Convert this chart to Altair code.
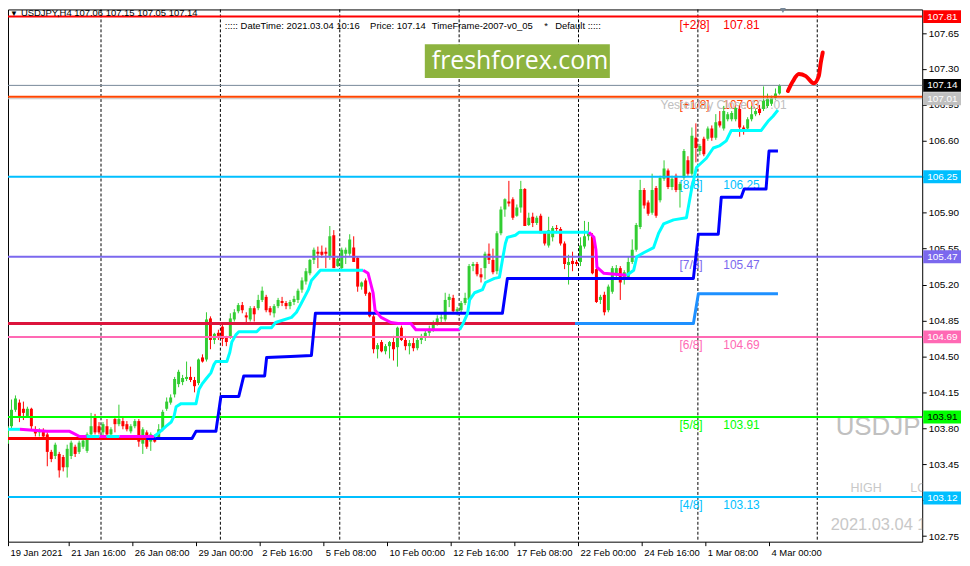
import altair as alt
import pandas as pd

# ---------------- candles: USDJPY H4, bar 0 = 19 Jan 2021 00:00 ----------------
opens = [
    103.65,103.82,103.98,104.05,103.99,103.92,103.99,103.79,103.76,103.78,
    103.74,103.57,103.53,103.55,103.52,103.42,103.53,103.62,103.57,103.62,
    103.58,103.74,103.92,103.82,103.76,103.82,103.74,103.89,103.84,103.87,
    103.84,103.77,103.82,103.87,103.65,103.76,103.67,103.72,103.71,103.79,
    103.99,104.05,104.13,104.23,104.25,104.28,104.30,104.27,104.24,104.49,
    104.47,104.87,104.66,104.73,104.79,104.68,104.69,104.86,104.94,105.00,
    104.90,104.86,104.97,104.97,105.05,105.08,104.97,104.92,104.99,105.04,
    105.02,104.99,105.03,105.05,105.15,105.23,105.31,105.44,105.52,105.52,
    105.52,105.47,105.68,105.38,105.36,105.50,105.50,105.56,105.46,105.18,
    105.24,105.12,104.89,104.57,104.64,104.55,104.60,104.64,104.59,104.78,
    104.66,104.60,104.63,104.58,104.66,104.68,104.73,104.76,104.82,104.87,
    104.86,105.05,105.07,104.94,104.95,105.02,105.05,105.38,105.40,105.30,
    105.36,105.50,105.44,105.33,105.70,105.93,106.01,106.03,105.87,105.95,
    106.13,105.78,105.86,105.80,105.87,105.71,105.58,105.66,105.74,105.74,
    105.60,105.39,105.43,105.42,105.42,105.57,105.67,105.68,105.35,105.05,
    105.10,104.95,105.13,105.31,105.36,105.27,105.27,105.42,105.54,105.76,
    106.12,106.00,105.90,106.14,106.02,106.23,106.31,106.15,106.26,106.12,
    106.24,106.41,106.28,106.63,106.50,106.62,106.62,106.72,106.63,106.79,
    106.72,106.81,106.81,106.81,106.91,106.73,106.72,106.81,106.86,106.91,
    106.91,106.94,106.96,107.02,107.06,
]
highs = [
    103.86,104.08,104.12,104.08,104.06,104.01,104.00,103.82,103.80,103.80,
    103.76,103.59,103.66,103.57,103.54,103.64,103.68,103.64,103.68,103.70,
    103.76,103.95,103.94,103.86,103.86,103.89,103.81,103.92,104.03,103.90,
    103.87,103.84,103.89,103.89,103.81,103.78,103.76,103.74,103.84,103.98,
    104.10,104.13,104.30,104.37,104.32,104.45,104.40,104.30,104.48,104.52,
    104.93,104.89,104.73,104.76,104.81,104.70,104.92,104.96,105.02,105.03,
    104.93,104.99,104.99,105.10,105.18,105.10,104.99,105.01,105.07,105.08,
    105.04,105.05,105.09,105.16,105.27,105.36,105.45,105.56,105.57,105.58,
    105.56,105.77,105.73,105.47,105.56,105.56,105.69,105.67,105.47,105.23,
    105.26,105.13,104.92,104.63,104.66,104.62,104.65,104.70,104.79,104.80,
    104.70,104.66,104.68,104.68,104.72,104.76,104.80,104.85,104.90,104.92,
    105.12,105.11,105.10,104.98,105.04,105.12,105.40,105.42,105.42,105.36,
    105.52,105.60,105.55,105.72,105.96,106.04,106.21,106.05,105.98,106.21,
    106.14,105.90,105.90,105.87,105.89,105.72,105.86,105.77,105.78,105.76,
    105.62,105.49,105.52,105.44,105.66,105.82,105.81,105.70,105.37,105.10,
    105.13,105.20,105.38,105.39,105.38,105.34,105.47,105.64,105.80,106.22,
    106.14,106.02,106.28,106.16,106.26,106.41,106.33,106.26,106.28,106.20,
    106.52,106.45,106.73,106.77,106.57,106.64,106.74,106.75,106.86,106.89,
    106.94,106.88,106.89,106.93,106.94,106.75,106.83,106.94,106.91,106.95,
    107.13,107.06,107.04,107.11,107.15,
]
lows = [
    103.63,103.80,103.96,103.86,103.88,103.90,103.79,103.72,103.72,103.69,
    103.43,103.47,103.50,103.32,103.38,103.32,103.50,103.52,103.55,103.60,
    103.56,103.72,103.74,103.74,103.72,103.72,103.72,103.76,103.82,103.79,
    103.77,103.75,103.80,103.62,103.55,103.60,103.58,103.66,103.69,103.77,
    103.97,104.03,104.10,104.20,104.22,104.26,104.25,104.15,104.22,104.44,
    104.45,104.57,104.62,104.66,104.60,104.60,104.67,104.84,104.92,104.92,
    104.83,104.84,104.84,104.95,105.03,104.93,104.90,104.88,104.97,104.99,
    104.96,104.96,105.00,105.02,105.12,105.20,105.29,105.40,105.36,105.46,
    105.36,105.44,105.36,105.37,105.34,105.40,105.48,105.42,105.13,105.15,
    105.09,104.88,104.53,104.48,104.54,104.52,104.48,104.46,104.40,104.65,
    104.56,104.52,104.55,104.56,104.62,104.65,104.70,104.74,104.80,104.83,
    104.84,104.98,104.92,104.90,104.93,105.00,105.03,105.33,105.28,105.22,
    105.25,105.40,105.30,105.30,105.68,105.86,105.96,105.83,105.86,105.90,
    105.77,105.77,105.76,105.78,105.70,105.58,105.56,105.62,105.70,105.58,
    105.35,105.20,105.33,105.38,105.38,105.55,105.63,105.30,105.02,105.01,
    104.90,104.93,105.11,105.26,105.05,105.20,105.25,105.40,105.52,105.74,
    105.94,105.87,105.88,105.85,106.00,106.21,106.13,106.12,106.10,105.95,
    106.22,106.26,106.26,106.39,106.46,106.45,106.60,106.60,106.61,106.73,
    106.70,106.79,106.79,106.79,106.64,106.66,106.70,106.79,106.84,106.85,
    106.89,106.92,106.94,107.00,107.05,
]
closes = [
    103.82,103.98,104.09,103.92,103.95,103.99,103.82,103.75,103.78,103.72,
    103.57,103.50,103.64,103.39,103.42,103.60,103.66,103.55,103.66,103.68,
    103.74,103.82,103.76,103.76,103.84,103.74,103.79,103.84,103.89,103.82,
    103.79,103.82,103.87,103.67,103.79,103.62,103.74,103.67,103.79,103.96,
    104.06,104.10,104.28,104.35,104.29,104.30,104.27,104.21,104.47,104.45,
    104.86,104.66,104.72,104.70,104.67,104.64,104.87,104.93,105.00,104.95,
    104.88,104.97,104.91,105.05,105.14,104.95,104.93,104.99,105.05,105.02,
    104.99,105.03,105.06,105.14,105.24,105.33,105.44,105.54,105.50,105.49,
    105.50,105.67,105.36,105.45,105.54,105.54,105.64,105.42,105.18,105.22,
    105.11,104.89,104.57,104.61,104.55,104.60,104.64,104.57,104.78,104.66,
    104.60,104.63,104.58,104.66,104.70,104.73,104.77,104.82,104.87,104.88,
    105.05,105.08,104.94,104.96,105.02,105.07,105.38,105.40,105.30,105.27,
    105.50,105.44,105.32,105.70,105.93,106.03,105.99,105.85,105.95,106.13,
    105.77,105.85,105.80,105.85,105.70,105.60,105.73,105.75,105.73,105.60,
    105.40,105.42,105.40,105.40,105.58,105.67,105.71,105.31,105.03,105.08,
    104.93,105.18,105.36,105.36,105.22,105.32,105.42,105.54,105.78,106.12,
    105.97,105.89,106.12,105.87,106.24,106.33,106.15,106.23,106.12,106.18,
    106.50,106.28,106.65,106.53,106.55,106.47,106.72,106.63,106.78,106.75,
    106.89,106.86,106.87,106.92,106.73,106.70,106.81,106.86,106.89,106.87,
    106.99,107.01,107.02,107.06,107.14,
]

# time axis labels (every 16 H4 bars) and weekly separators (bar index)
time_labels = ["19 Jan 2021", "21 Jan 16:00", "26 Jan 08:00", "29 Jan 00:00",
               "2 Feb 16:00", "5 Feb 08:00", "10 Feb 00:00", "12 Feb 16:00",
               "17 Feb 08:00", "22 Feb 00:00", "24 Feb 16:00", "1 Mar 08:00",
               "4 Mar 00:00"]
week_start_bars = [24, 54, 84, 114, 144, 174, 204]
y_ticks = [102.75, 103.10, 103.45, 103.80, 104.15, 104.50, 104.85, 105.20,
           105.55, 105.90, 106.25, 106.60, 106.95, 107.30, 107.65]

# full-width horizontal levels
level_prices = [107.81, 107.14, 107.03, 107.01, 106.25, 105.47, 104.69, 103.91, 103.13]
level_kind = ["+2/8", "bid", "+1/8", "yclose", "8/8", "7/8", "6/8", "5/8", "4/8"]

# Murrey labels
mm_names = ["[+2/8]", "[+1/8]", "[8/8]", "[7/8]", "[6/8]", "[5/8]", "[4/8]"]
mm_prices = [107.81, 107.03, 106.25, 105.47, 104.69, 103.91, 103.13]
mm_kind = ["+2/8", "+1/8", "8/8", "7/8", "6/8", "5/8", "4/8"]

# right-axis price boxes
box_prices = [107.81, 107.14, 107.01, 106.25, 105.47, 104.69, 103.91, 103.12]
box_kind = ["+2/8", "bid", "yclose", "8/8", "7/8", "6/8", "5/8", "4/8"]

# partial lines
red_x, red_y = [-1, 35], [103.70, 103.70]
crimson_x, crimson_y = [-1, 142.75], [104.82, 104.82]
dodger_x = [142.75, 172.5, 173.75, 193.75]
dodger_y = [104.82, 104.82, 105.11, 105.11]
blue_x = [35, 46.5, 47.5, 52.5, 53.75, 58.25, 59.5, 64.75, 65.25, 71.25, 76.5, 77.5,
          124.5, 125.75, 172.5, 173.75, 178.75, 179.5, 184.5, 185.25, 190.75, 191.5, 193.75]
blue_y = [103.70, 103.70, 103.77, 103.77, 104.11, 104.11, 104.31, 104.31, 104.49, 104.50,
          104.51, 104.92, 104.92, 105.26, 105.26, 105.69, 105.69, 106.05, 106.05, 106.13,
          106.13, 106.50, 106.50]

# trailing trend line: (direction, bar positions, prices)
trend_segments = [
    ("up", [-1, 3.25], [103.79, 103.79]),
    ("down", [3.25, 10, 15.75, 18.25, 20], [103.79, 103.77, 103.77, 103.72, 103.72]),
    ("up", [20, 23.25], [103.72, 103.72]),
    ("down", [23.25, 25], [103.72, 103.72]),
    ("up", [25, 28.25], [103.72, 103.72]),
    ("down", [28.25, 37], [103.72, 103.72]),
    ("up", [37, 38.25, 40, 41.25, 42, 42.5, 43.75, 47.5, 48.25, 49, 50, 51.25, 52, 52.5,
            55.25, 56, 56.5, 57.5, 58.25, 62.75, 63.75, 66.5, 67.5, 68.25, 71.5, 72.75,
            74, 75.75, 76.5, 78.75, 89.5],
     [103.72, 103.76, 103.82, 103.86, 103.92, 104.01, 104.04, 104.04, 104.18, 104.23,
      104.28, 104.34, 104.42, 104.45, 104.45, 104.54, 104.64, 104.71, 104.74, 104.74,
      104.78, 104.78, 104.83, 104.84, 104.88, 104.93, 105.02, 105.15, 105.24, 105.34, 105.34]),
    ("down", [89.5, 90.75, 92, 92.5, 94, 96.5, 98.25, 101.5, 102.75, 113.75],
     [105.34, 105.31, 105.12, 104.95, 104.88, 104.83, 104.82, 104.82, 104.76, 104.76]),
    ("up", [113.75, 114.5, 115.75, 116.25, 117.5, 119.5, 120.25, 122.5, 123.75, 124.5,
            125.25, 125.75, 127.75, 128.75, 146.25],
     [104.76, 104.81, 104.92, 105.05, 105.12, 105.15, 105.22, 105.26, 105.27, 105.44,
      105.60, 105.66, 105.68, 105.71, 105.71]),
    ("down", [146.25, 147.5, 148, 148.25, 150, 155.75],
     [105.71, 105.66, 105.54, 105.37, 105.31, 105.29]),
    ("up", [155.75, 157.5, 158.25, 160, 162.5, 163.75, 165, 167.5, 170.75, 172, 173.25,
            175.75, 177.5, 179, 180.75, 182, 189.5, 191.25, 192.5, 193.75],
     [105.29, 105.34, 105.47, 105.51, 105.56, 105.70, 105.79, 105.83, 105.85, 106.12,
      106.34, 106.43, 106.53, 106.55, 106.60, 106.70, 106.70, 106.79, 106.84, 106.90]),
]

# hand-drawn forecast stroke
fc_x = [196.25, 197.5, 199, 200.75, 202.75, 204, 204.5, 205]
fc_y = [107.085, 107.18, 107.25, 107.23, 107.16, 107.23, 107.36, 107.46]

# ---------------- styles ----------------
F = "Liberation Sans"
UP, DN = "#32cd32", "#ff0000"
kind_color = {"+2/8": "#ff0000", "bid": "#778899", "+1/8": "#ff4500", "yclose": "#c0c0c0",
              "8/8": "#00bfff", "7/8": "#7b68ee", "6/8": "#ff69b4", "5/8": "#00ff00",
              "4/8": "#00bfff"}
kind_width = {"+2/8": 2, "bid": 1, "+1/8": 2, "yclose": 1, "8/8": 2, "7/8": 2,
              "6/8": 2, "5/8": 2, "4/8": 2}
kind_fg = {"+2/8": "white", "bid": "white", "yclose": "white", "8/8": "white",
           "7/8": "white", "6/8": "white", "5/8": "black", "4/8": "white"}
box_fill = dict(kind_color)
box_fill["bid"] = "#000000"
trend_color = {"up": "#00ffff", "down": "#ff00ff"}

X_DOMAIN = [0.25, 230.0]
Y_DOMAIN = [102.6955, 107.8797]
W, H = 919, 535

label_js = "[" + ",".join("'%s'" % t for t in time_labels) + "]"
x_ticks = [max(16 * k - 0.5, X_DOMAIN[0]) for k in range(len(time_labels))]
x_axis = alt.Axis(values=x_ticks, labelExpr=label_js + "[round((datum.value + 0.5) / 16)]",
                  title=None, grid=False, orient="bottom", labelAlign="left",
                  labelBaseline="top", labelOffset=2, labelPadding=2, tickSize=4,
                  tickColor="black", domain=False, labelFont=F, labelFontSize=9.5,
                  labelColor="black", labelOverlap=False, labelFlush=False)
y_axis = alt.Axis(values=y_ticks, format=".2f", orient="right", title=None, grid=False,
                  tickSize=4, tickColor="black", labelPadding=2, domain=False,
                  labelFont=F, labelFontSize=10, labelColor="black",
                  labelOverlap=False, labelFlush=False)


def X(f):
    return alt.X(f + ":Q", scale=alt.Scale(domain=X_DOMAIN, nice=False, zero=False), axis=x_axis)


def Y(f):
    return alt.Y(f + ":Q", scale=alt.Scale(domain=Y_DOMAIN, nice=False, zero=False), axis=y_axis)


def note(text, x, y, size, color, font=F, clip=False):
    return alt.Chart(pd.DataFrame({"t": [text]})).mark_text(
        align="left", baseline="middle", font=font, fontSize=size, color=color, clip=clip
    ).encode(text="t:N", x=alt.value(x), y=alt.value(y))


# ---------------- tables ----------------
n = len(closes)
cd = pd.DataFrame({"i": list(range(n)), "o": opens, "h": highs, "l": lows, "c": closes})
cd["col"] = [UP if c >= o else DN for o, c in zip(cd.o, cd.c)]
cd["xw"] = cd.i + 0.125
cd["xb0"] = cd.i - 0.25
cd["xb1"] = cd.i + 0.5
cd["c2"] = [c if abs(c - o) >= 0.01 else o + 0.01 for o, c in zip(cd.o, cd.c)]

grid_df = pd.DataFrame({"gx": [b - 0.375 for b in week_start_bars]})

lev_df = pd.DataFrame({"p": level_prices,
                       "col": [kind_color[k] for k in level_kind],
                       "w": [kind_width[k] for k in level_kind]})

mm_df = pd.DataFrame({"name": mm_names, "p": mm_prices,
                      "val": ["%.2f" % p for p in mm_prices],
                      "col": [kind_color[k] for k in mm_kind]})

box_df = pd.DataFrame({"p": box_prices, "txt": ["%.2f" % p for p in box_prices],
                       "bg": [box_fill[k] for k in box_kind],
                       "fg": [kind_fg[k] for k in box_kind]})
box_df["p0"] = box_df.p - 0.063
box_df["p1"] = box_df.p + 0.063

rows = []
seg = 0
for xs, ys, colr, w in [(red_x, red_y, "#ff0000", 3), (crimson_x, crimson_y, "#dc143c", 3),
                        (dodger_x, dodger_y, "#1e90ff", 3), (blue_x, blue_y, "#0000ff", 3)]:
    for x, y in zip(xs, ys):
        rows.append({"seg": seg, "x": x, "y": y, "col": colr, "w": w})
    seg += 1
for d, xs, ys in trend_segments:
    for x, y in zip(xs, ys):
        rows.append({"seg": seg, "x": x, "y": y, "col": trend_color[d], "w": 3})
    seg += 1
ln_df = pd.DataFrame(rows)

fc_df = pd.DataFrame({"x": fc_x, "y": fc_y})

# ---------------- layers ----------------
grid = alt.Chart(grid_df).mark_rule(color="black", strokeDash=[3, 2], strokeWidth=1).encode(x=X("gx"))

mm_name_txt = alt.Chart(mm_df).mark_text(align="left", baseline="middle", dy=8, font=F,
                                         fontSize=12).encode(
    x=alt.value(675), y=Y("p"), text="name:N", color=alt.Color("col:N", scale=None))
mm_val_txt = alt.Chart(mm_df).mark_text(align="left", baseline="middle", dy=8, font=F,
                                        fontSize=12).encode(
    x=alt.value(719), y=Y("p"), text="val:N", color=alt.Color("col:N", scale=None))
yclose_txt = alt.Chart(pd.DataFrame({"p": [107.01], "t": ["Yesterday Close 107.01"]})).mark_text(
    align="left", baseline="middle", dy=6, font=F, fontSize=12, color="#c0c0c0").encode(
    x=alt.value(656), y=Y("p"), text="t:N")

wm1 = note("USDJPY", 832, 420, 26, "#c0c0c0", clip=True)
wm2 = note("HIGH", 847, 481, 12.5, "#c8c8c8", clip=True)
wm3 = note("LOW", 907, 481, 12.5, "#c8c8c8", clip=True)
wm4 = note("2021.03.04 10:16", 827, 518, 16.5, "#c8c8c8", clip=True)

wicks = alt.Chart(cd).mark_rule(strokeWidth=1, clip=True).encode(
    x=X("xw"), y=Y("l"), y2="h:Q", color=alt.Color("col:N", scale=None))
bodies = alt.Chart(cd).mark_rect(clip=True).encode(
    x=X("xb0"), x2="xb1:Q", y=Y("o"), y2="c2:Q", color=alt.Color("col:N", scale=None))

levels = alt.Chart(lev_df).mark_rule().encode(
    y=Y("p"), color=alt.Color("col:N", scale=None),
    strokeWidth=alt.StrokeWidth("w:Q", scale=None))

lines = alt.Chart(ln_df).mark_line(clip=True, strokeJoin="round").encode(
    x=X("x"), y=Y("y"), detail="seg:N", color=alt.Color("col:N", scale=None),
    strokeWidth=alt.StrokeWidth("w:Q", scale=None))

forecast = alt.Chart(fc_df).mark_line(color="#ff0000", strokeWidth=4, strokeCap="round",
                                      interpolate="monotone", clip=True).encode(
    x=X("x"), y=Y("y"))

hdr_tri = note("\u25BC", 2, 5, 8, "black")
hdr = note("USDJPY,H4  107.06 107.15 107.05 107.14", 13, 4, 9.5, "black")
dt1 = note("::::: DateTime: 2021.03.04 10:16", 218, 17, 9.5, "black")
dt2 = note("Price: 107.14", 364, 17, 9.5, "black")
dt3 = note("TimeFrame-2007-v0_05", 426, 17, 9.5, "black")
dt4 = note("*", 539, 17, 9.5, "black")
dt5 = note("Default  :::::", 550, 17, 9.5, "black")

logo_bg = alt.Chart(pd.DataFrame({"a": [0]})).mark_rect(color="#8db33f").encode(
    x=alt.value(419), x2=alt.value(605), y=alt.value(35), y2=alt.value(69))
logo_txt = note("freshforex.com", 426, 52, 25, "white", font="Open Sans")

shift_mark = alt.Chart(pd.DataFrame({"a": [0]})).mark_point(
    shape="triangle-down", filled=True, color="#778899", size=35, opacity=1).encode(
    x=alt.value(779), y=alt.value(1))

boxes = alt.Chart(box_df).mark_rect().encode(
    x=alt.value(920), x2=alt.value(958), y=Y("p0"), y2="p1:Q",
    color=alt.Color("bg:N", scale=None))
box_txt = alt.Chart(box_df).mark_text(align="left", baseline="middle", font=F,
                                      fontSize=10).encode(
    x=alt.value(924), y=Y("p"), text="txt:N", color=alt.Color("fg:N", scale=None))

chart = alt.layer(
    grid, wm1, wm2, wm3, wm4, mm_name_txt, mm_val_txt, yclose_txt,
    wicks, bodies, levels, lines, forecast,
    hdr_tri, hdr, dt1, dt2, dt3, dt4, dt5, logo_bg, logo_txt, shift_mark,
    boxes, box_txt,
).properties(
    width=W, height=H,
    padding={"left": 0, "top": 0, "right": 40, "bottom": 22},
    autosize=alt.AutoSizeParams(type="none"),
).configure(background="white").configure_view(stroke="black", strokeWidth=1)

chart.save("out.html", embed_options={"renderer": "svg", "actions": False})
